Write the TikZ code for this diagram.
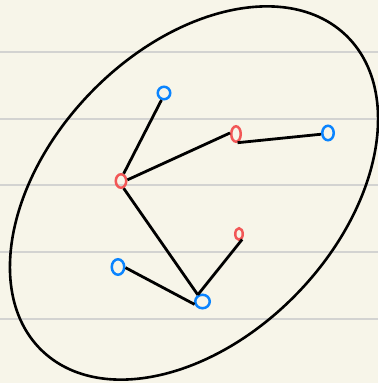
\documentclass[tikz,border=0pt]{standalone}
\usepackage{tikz}
\usetikzlibrary{shapes.geometric}
\definecolor{NBPaper}{HTML}{F7F5E9}
\definecolor{NBRule}{HTML}{D3D3D1}
\definecolor{NBBlue}{HTML}{0A84FF}
\definecolor{NBRed}{HTML}{F25757}
\definecolor{NBInk}{HTML}{000000}
\tikzset{
  rule/.style={NBRule,line width=1.5pt},
  blob/.style={NBInk,line width=2.6pt},
  leaf/.style={ellipse,draw=NBBlue,line width=2.5pt,inner sep=0pt},
  hub/.style={leaf,draw=NBRed},
  edge/.style={NBInk,line width=2.8pt},
}

\begin{document}
\begin{tikzpicture}[x=1pt,y=-1pt]
    % the paper
    \fill[NBPaper] (0,0) rectangle (378,383);
    \useasboundingbox (0,0) rectangle (378,383);
    \foreach \ry in {52,119,185,252,319}
      \draw[rule] (0,\ry) -- (378,\ry);

    % the enclosing set
    \draw[blob,rotate around={46:(194,193)}] (194,193) ellipse [x radius=219,y radius=144];

    % the tree
    \node[hub,minimum width=10.5pt,minimum height=13.5pt] (r1) at (121,181) {};
    \node[hub,minimum width=9.5pt,minimum height=15.5pt] (r2) at (236,134) {};
    \node[hub,minimum width=7.5pt,minimum height=11.5pt] (r3) at (239,234) {};
    \node[leaf,minimum width=12.5pt,minimum height=12.5pt] (b1) at (164,93) {};
    \node[leaf,minimum width=11.5pt,minimum height=14.5pt] (b2) at (328,133) {};
    \node[leaf,minimum width=12.5pt,minimum height=15.5pt] (b3) at (118,267) {};
    \node[leaf,minimum width=14.5pt,minimum height=13.5pt] (b4) at (202.5,301.5) {};

    \draw[edge] (r1.70) -- (b1.-110);
    \draw[edge] (r1.10) -- (r2.170);
    \draw[edge] (r2.-80) -- (b2.190);
    \draw[edge] (r1.-70) -- (b4.125);
    \draw[edge] (b3.-5) -- (b4.200);
    \draw[edge] (r3.-60) -- (b4.125);
  \end{tikzpicture}
\end{document}
